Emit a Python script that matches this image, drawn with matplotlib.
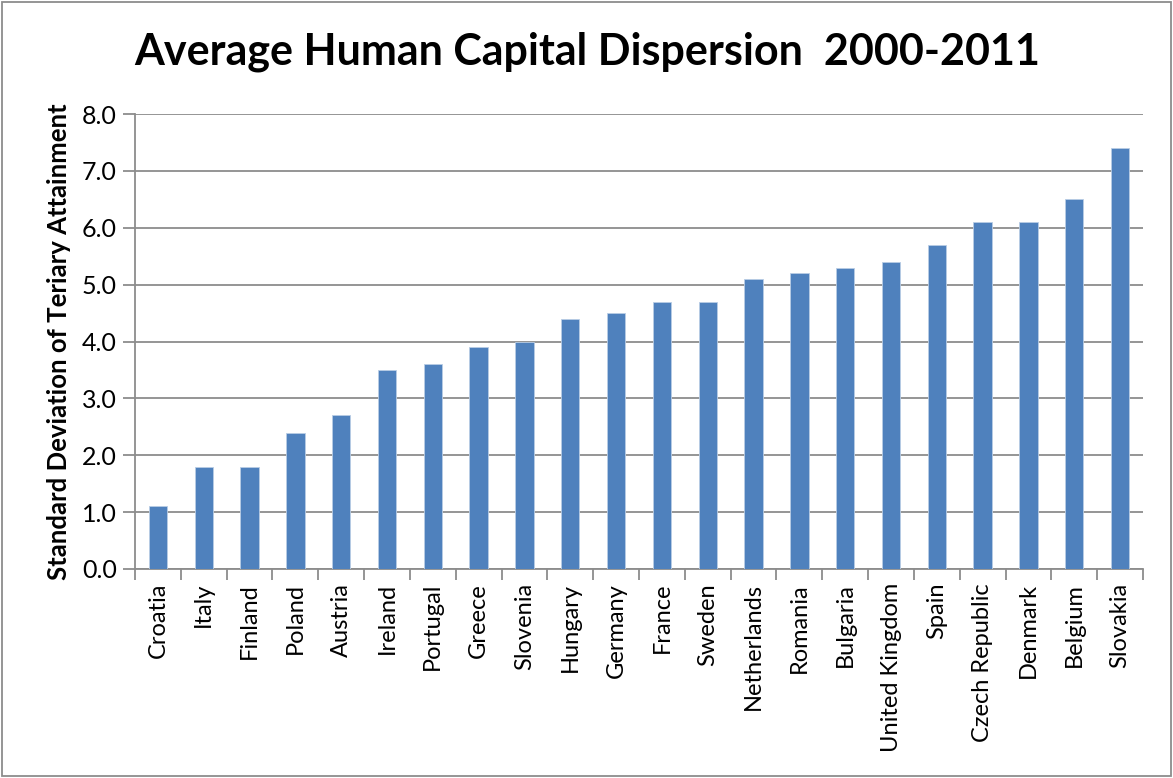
import matplotlib
matplotlib.use("Agg")
import matplotlib.pyplot as plt
from matplotlib.patches import Rectangle

countries = [
    "Croatia", "Italy", "Finland", "Poland", "Austria", "Ireland", "Portugal",
    "Greece", "Slovenia", "Hungary", "Germany", "France", "Sweden",
    "Netherlands", "Romania", "Bulgaria", "United Kingdom", "Spain",
    "Czech Republic", "Denmark", "Belgium", "Slovakia",
]
dispersion = [
    1.1, 1.8, 1.8, 2.4, 2.7, 3.5, 3.6, 3.9, 4.0, 4.4, 4.5, 4.7, 4.7,
    5.1, 5.2, 5.3, 5.4, 5.7, 6.1, 6.1, 6.5, 7.4,
]
y_ticks = [0, 1, 2, 3, 4, 5, 6, 7, 8]

plt.rcParams["font.family"] = ["Lato", "DejaVu Sans"]

fig = plt.figure(figsize=(11.73, 7.78), dpi=100)
W, H = 1173, 778
# axes box in pixel coordinates: left 135, right 1143, top 114, bottom 569
ax = fig.add_axes([135 / W, 1 - 569 / H, (1143 - 135) / W, (569 - 114) / H])

x = range(len(countries))
ax.bar(x, dispersion, width=0.4, color="#4F81BD", edgecolor="#B9CDE5",
       linewidth=0.6, zorder=3)

ax.set_xlim(-0.5, len(countries) - 0.5)
ax.set_ylim(0, 8)
ax.set_yticks(y_ticks)
ax.set_yticklabels([f"{v:.1f}" for v in y_ticks], fontsize=18)
ax.yaxis.grid(True, color="#8C8C8C", linewidth=1.3, zorder=0)

# category boundaries carry the x tick marks; labels sit at bar centres
ax.set_xticks([i - 0.5 for i in range(len(countries) + 1)])
ax.set_xticklabels([])
ax.set_xticks(list(x), minor=True)
ax.set_xticklabels(countries, minor=True, rotation=90, fontsize=17)
ax.tick_params(axis="x", which="major", length=8, width=1.3, color="#8C8C8C")
ax.tick_params(axis="x", which="minor", length=0, pad=10)
ax.tick_params(axis="y", length=9, width=1.3, color="#8C8C8C", pad=4)

for side in ("top", "right"):
    ax.spines[side].set_visible(False)
for side in ("left", "bottom"):
    ax.spines[side].set_color("#8C8C8C")
    ax.spines[side].set_linewidth(1.3)

ax.set_ylabel("Standard Deviation of Teriary Attainment", fontsize=18.5,
              fontweight="bold", labelpad=8)

fig.text(587 / W, 1 - 52 / H, "Average Human Capital Dispersion  2000-2011",
         ha="center", va="center", fontsize=31, fontweight="bold")

# chart frame
fig.patches.append(Rectangle((2 / W, 2 / H), (W - 4) / W, (H - 4) / H,
                             transform=fig.transFigure, fill=False,
                             edgecolor="#8C8C8C", linewidth=1.3))

fig.savefig("out.png", dpi=100)
